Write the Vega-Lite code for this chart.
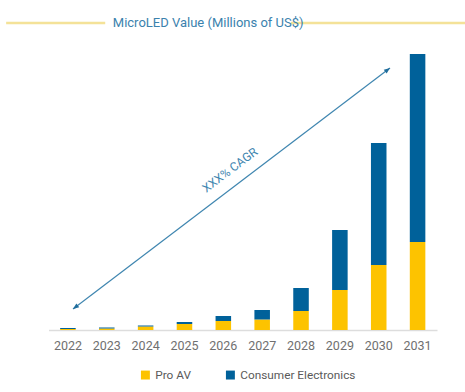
{
  "$schema": "https://vega.github.io/schema/vega-lite/v6.json",
  "width": 388.5,
  "height": 280,
  "autosize": {"type": "none"},
  "padding": {"left": 48.5, "top": 50, "right": 28, "bottom": 62},
  "background": "white",
  "config": {"view": {"stroke": null}, "font": "Roboto"},
  "datasets": {
    "bars": [
      {"year": "2022", "series": "Pro AV", "value": 1},
      {"year": "2022", "series": "Consumer Electronics", "value": 1},
      {"year": "2023", "series": "Pro AV", "value": 1.5},
      {"year": "2023", "series": "Consumer Electronics", "value": 1},
      {"year": "2024", "series": "Pro AV", "value": 3.5},
      {"year": "2024", "series": "Consumer Electronics", "value": 1},
      {"year": "2025", "series": "Pro AV", "value": 6},
      {"year": "2025", "series": "Consumer Electronics", "value": 2},
      {"year": "2026", "series": "Pro AV", "value": 9},
      {"year": "2026", "series": "Consumer Electronics", "value": 5},
      {"year": "2027", "series": "Pro AV", "value": 10.5},
      {"year": "2027", "series": "Consumer Electronics", "value": 9.5},
      {"year": "2028", "series": "Pro AV", "value": 19},
      {"year": "2028", "series": "Consumer Electronics", "value": 23},
      {"year": "2029", "series": "Pro AV", "value": 40},
      {"year": "2029", "series": "Consumer Electronics", "value": 60},
      {"year": "2030", "series": "Pro AV", "value": 65},
      {"year": "2030", "series": "Consumer Electronics", "value": 122},
      {"year": "2031", "series": "Pro AV", "value": 88},
      {"year": "2031", "series": "Consumer Electronics", "value": 188}
    ],
    "arrow": [{"x1": 0.63, "y1": 21, "x2": 8.79, "y2": 262}],
    "headTop": [{"x": 8.79, "y": 262}],
    "headBottom": [{"x": 0.63, "y": 21}],
    "cagr": [{"x": 4.67, "y": 160, "label": "XXX% CAGR"}],
    "titleLines": [{"x1": -1.09, "x2": 1.46, "y": 307}, {"x1": 6.24, "x2": 10.8, "y": 307}],
    "titleText": [{"x": 4.11, "y": 307, "label": "MicroLED Value (Millions of US$)"}]
  },
  "layer": [
    {
      "data": {"name": "titleLines"},
      "mark": {"type": "rule", "color": "#f4e298", "strokeWidth": 2.5},
      "encoding": {
        "x": {"field": "x1", "type": "quantitative", "scale": {"domain": [0, 10]}, "axis": null},
        "x2": {"field": "x2"},
        "y": {"field": "y", "type": "quantitative", "scale": {"domain": [0, 280]}, "axis": null}
      }
    },
    {
      "data": {"name": "titleText"},
      "mark": {"type": "text", "fontSize": 13, "color": "#3b82ad", "align": "center", "baseline": "middle"},
      "encoding": {
        "x": {"field": "x", "type": "quantitative", "scale": {"domain": [0, 10]}, "axis": null},
        "y": {"field": "y", "type": "quantitative", "scale": {"domain": [0, 280]}, "axis": null},
        "text": {"field": "label"}
      }
    },
    {
      "data": {"name": "bars"},
      "mark": {"type": "bar"},
      "encoding": {
        "x": {
          "field": "year", "type": "ordinal",
          "scale": {"paddingInner": 0.6, "paddingOuter": 0.3},
          "axis": {"title": null, "labelAngle": 0, "ticks": false, "labelFontSize": 12.5, "labelColor": "#707070", "labelPadding": 9, "domainColor": "#dddddd", "domainWidth": 1.5, "grid": false}
        },
        "y": {"field": "value", "type": "quantitative", "stack": "zero", "scale": {"domain": [0, 280]}, "axis": null},
        "color": {
          "field": "series", "type": "nominal",
          "sort": ["Pro AV", "Consumer Electronics"],
          "scale": {"domain": ["Pro AV", "Consumer Electronics"], "range": ["#fdc300", "#00619a"]},
          "legend": {"title": null, "orient": "none", "legendX": 91, "legendY": 319, "direction": "horizontal", "symbolType": "square", "symbolSize": 80, "symbolStrokeWidth": 0, "labelFontSize": 11.8, "labelColor": "#5a5a5a", "columnPadding": 33, "labelOffset": 4}
        },
        "order": {"field": "series", "sort": "descending"}
      }
    },
    {
      "data": {"name": "arrow"},
      "mark": {"type": "rule", "color": "#3f86b0", "strokeWidth": 1.2},
      "encoding": {
        "x": {"field": "x1", "type": "quantitative", "scale": {"domain": [0, 10]}, "axis": null},
        "x2": {"field": "x2"},
        "y": {"field": "y1", "type": "quantitative", "scale": {"domain": [0, 280]}, "axis": null},
        "y2": {"field": "y2"}
      }
    },
    {
      "data": {"name": "headTop"},
      "mark": {"type": "point", "shape": "M0,0L-0.75,1.9L0.75,1.9Z", "filled": true, "color": "#1f6d9c", "size": 40, "angle": 53, "opacity": 1},
      "encoding": {
        "x": {"field": "x", "type": "quantitative", "scale": {"domain": [0, 10]}, "axis": null},
        "y": {"field": "y", "type": "quantitative", "scale": {"domain": [0, 280]}, "axis": null}
      }
    },
    {
      "data": {"name": "headBottom"},
      "mark": {"type": "point", "shape": "M0,0L-0.75,1.9L0.75,1.9Z", "filled": true, "color": "#1f6d9c", "size": 40, "angle": 233, "opacity": 1},
      "encoding": {
        "x": {"field": "x", "type": "quantitative", "scale": {"domain": [0, 10]}, "axis": null},
        "y": {"field": "y", "type": "quantitative", "scale": {"domain": [0, 280]}, "axis": null}
      }
    },
    {
      "data": {"name": "cagr"},
      "mark": {"type": "text", "fontSize": 12, "color": "#3f86b0", "angle": -37, "align": "center", "baseline": "middle"},
      "encoding": {
        "x": {"field": "x", "type": "quantitative", "scale": {"domain": [0, 10]}, "axis": null},
        "y": {"field": "y", "type": "quantitative", "scale": {"domain": [0, 280]}, "axis": null},
        "text": {"field": "label"}
      }
    }
  ],
  "resolve": {"scale": {"x": "independent", "y": "independent", "color": "independent"}}
}
